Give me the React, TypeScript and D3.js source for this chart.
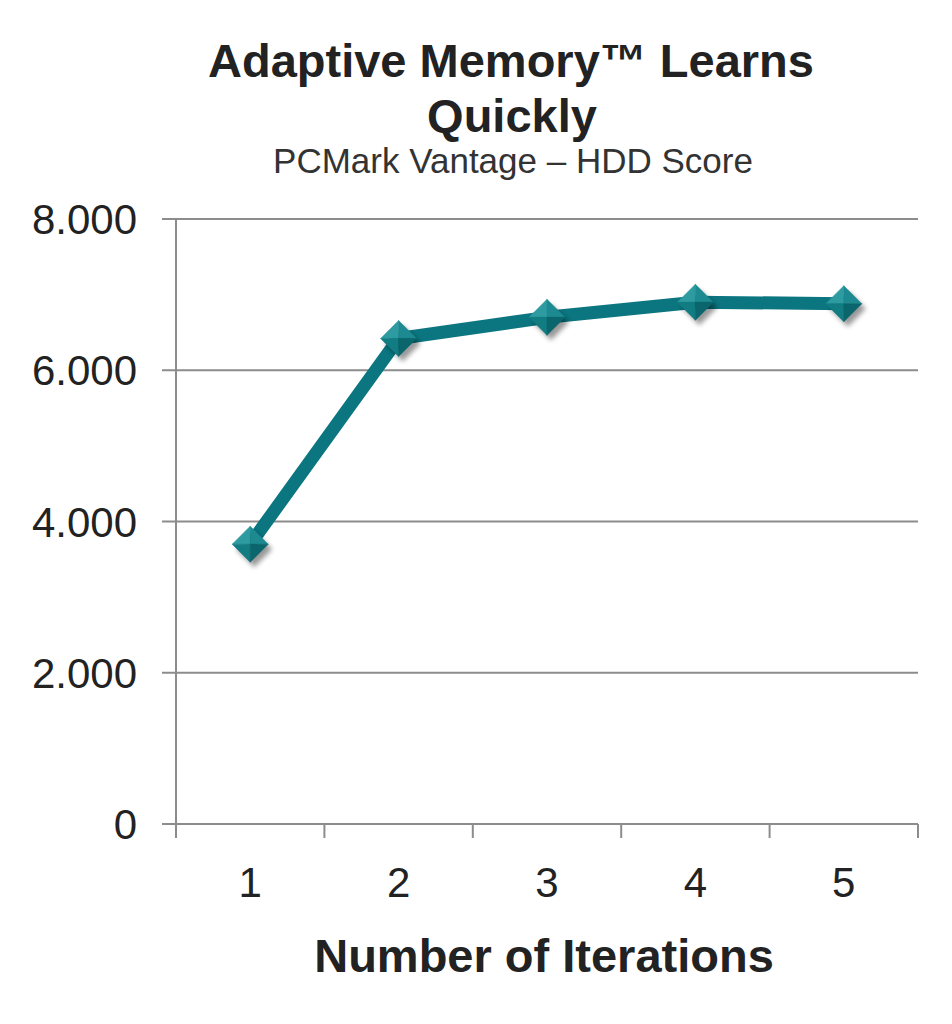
import React from "react";
import * as d3 from "d3";

const iterations = ["1", "2", "3", "4", "5"];
const hddScore = [3700, 6420, 6700, 6900, 6880];
const yTicks = [0, 2000, 4000, 6000, 8000];
const yTickLabels = ["0", "2.000", "4.000", "6.000", "8.000"];

const W = 952;
const H = 1024;
const margin = { top: 219, right: 34, bottom: 200, left: 176 };

const App: React.FC = () => {
  const x = d3
    .scaleBand()
    .domain(iterations)
    .range([margin.left, W - margin.right]);
  const y = d3
    .scaleLinear()
    .domain([0, 8000])
    .range([H - margin.bottom, margin.top]);

  const pts = iterations.map((it, i) => ({
    cx: (x(it) ?? 0) + x.bandwidth() / 2,
    cy: y(hddScore[i]),
  }));
  const line = d3
    .line<{ cx: number; cy: number }>()
    .x((d) => d.cx)
    .y((d) => d.cy);

  const bottomY = y(0);
  const grid = "#8c8c8c";
  const font = "'Liberation Sans', Arial, sans-serif";
  const r = 18;
  const bandEdges = iterations.map((it) => x(it) ?? 0).concat([W - margin.right]);

  // four facets of the bevelled diamond marker
  const facets = [
    { d: `M0,0L${-r},0L0,${-r}Z`, c: "#2e9ba1" },
    { d: `M0,0L0,${-r}L${r},0Z`, c: "#1c8a90" },
    { d: `M0,0L${-r},0L0,${r}Z`, c: "#117c82" },
    { d: `M0,0L${r},0L0,${r}Z`, c: "#0a666c" },
  ];

  return (
    <svg
      width={W}
      height={H}
      style={{ position: "absolute", left: 0, top: 0, background: "#fff" }}
      fontFamily={font}
    >
      <defs>
        <filter id="sh" x="-50%" y="-50%" width="200%" height="200%">
          <feGaussianBlur stdDeviation="2.5" />
        </filter>
      </defs>
      <rect width={W} height={H} fill="#fff" />

      <text x={511} y={77} textAnchor="middle" fontSize={47} fontWeight="bold" fill="#222">
        Adaptive Memory™ Learns
      </text>
      <text x={512} y={132} textAnchor="middle" fontSize={47} fontWeight="bold" fill="#222">
        Quickly
      </text>
      <text x={513} y={173} textAnchor="middle" fontSize={35} fill="#333">
        PCMark Vantage – HDD Score
      </text>

      {yTicks.map((t, i) => (
        <g key={t}>
          <line x1={margin.left - 14} x2={W - margin.right} y1={y(t)} y2={y(t)} stroke={grid} strokeWidth={2} />
          <text x={137} y={y(t)} dy="0.36em" textAnchor="end" fontSize={42} fill="#222">
            {yTickLabels[i]}
          </text>
        </g>
      ))}
      <line x1={margin.left} x2={margin.left} y1={margin.top} y2={bottomY} stroke={grid} strokeWidth={2} />
      {bandEdges.map((bx, i) => (
        <line key={i} x1={bx} x2={bx} y1={bottomY} y2={bottomY + 14} stroke={grid} strokeWidth={2} />
      ))}
      {iterations.map((it) => (
        <text
          key={it}
          x={(x(it) ?? 0) + x.bandwidth() / 2}
          y={897}
          textAnchor="middle"
          fontSize={42}
          fill="#222"
        >
          {it}
        </text>
      ))}
      <text x={544} y={972} textAnchor="middle" fontSize={47} fontWeight="bold" fill="#222">
        Number of Iterations
      </text>

      <path
        d={line(pts) ?? ""}
        fill="none"
        stroke="#0b7680"
        strokeWidth={13}
        strokeLinejoin="round"
      />
      {pts.map((p, i) => (
        <g key={i} transform={`translate(${p.cx},${p.cy})`}>
          <path
            d={`M4,${-r + 5}L${r + 4},5L4,${r + 5}L${-r + 4},5Z`}
            fill="#000"
            opacity={0.4}
            filter="url(#sh)"
          />
          {facets.map((f, j) => (
            <path key={j} d={f.d} fill={f.c} stroke={f.c} strokeWidth={0.5} />
          ))}
        </g>
      ))}
    </svg>
  );
};

export default App;
